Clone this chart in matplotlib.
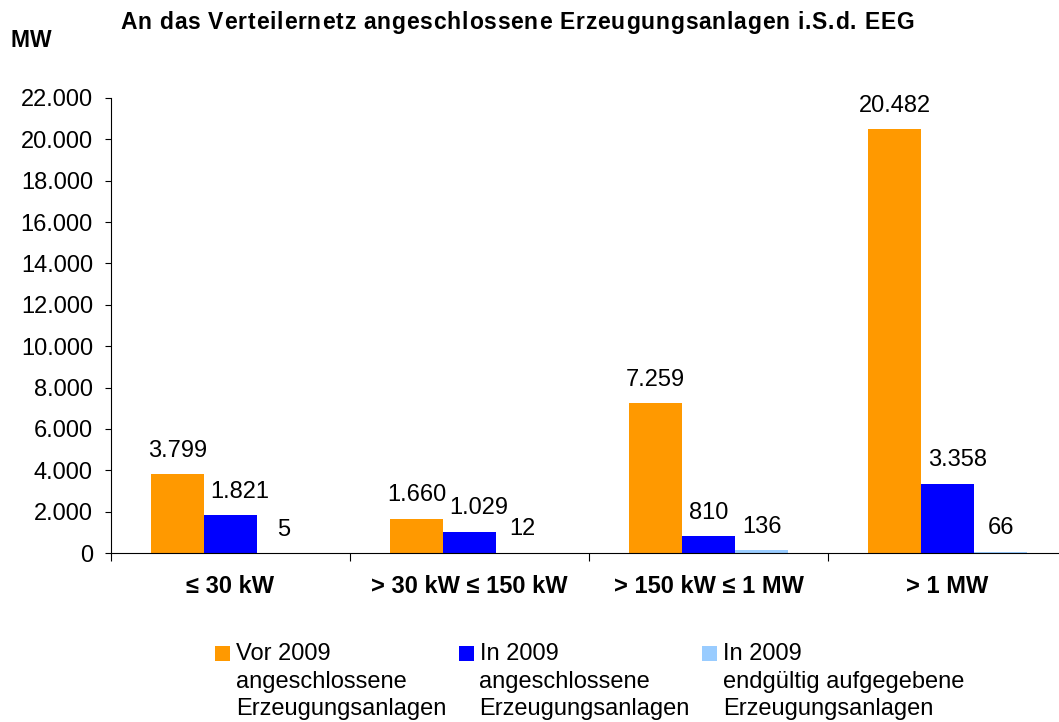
import numpy as np
import matplotlib
matplotlib.use("Agg")
import matplotlib.pyplot as plt
from matplotlib.patches import Rectangle
from matplotlib.ticker import FuncFormatter
from matplotlib.font_manager import FontProperties, findfont, get_font

plt.rcParams['font.family'] = ['Liberation Sans', 'DejaVu Sans']

# data (MW)
categories = ["\u2264 30 kW", "> 30 kW \u2264 150 kW", "> 150 kW \u2264 1 MW", "> 1 MW"]
vor_2009 = [3799, 1660, 7259, 20482]
in_2009 = [1821, 1029, 810, 3358]
aufgegeben_2009 = [5, 12, 136, 66]
series_labels = ["Vor 2009\nangeschlossene\nErzeugungsanlagen",
                 "In 2009\nangeschlossene\nErzeugungsanlagen",
                 "In 2009\nendgültig aufgegebene\nErzeugungsanlagen"]
colors = ["#FF9900", "#0000FF", "#99CCFF"]
title = "An das Verteilernetz angeschlossene Erzeugungsanlagen i.S.d. EEG"

W, H = 1059, 722


def de_fmt(v, pos=None):
    return f"{int(v):,}".replace(",", ".")


def spaced_text(fig, x, y, s, size, track):
    # bold text with extra letter spacing, x/y in pixels from top left
    prop = FontProperties(family='Liberation Sans', weight='bold', size=size)
    font = get_font(findfont(prop))
    font.set_size(size, 100)
    for c in s:
        fig.text(x / W, 1 - y / H, c, fontproperties=prop, ha="left", va="baseline")
        x += font.load_char(ord(c)).linearHoriAdvance / 65536 + track


fig = plt.figure(figsize=(W / 100, H / 100), dpi=100)
ax = fig.add_axes([111 / W, 169 / H, 956 / W, 455 / H])

x = np.arange(len(categories))
w = 0.222
series = [vor_2009, in_2009, aufgegeben_2009]
# small sideways nudges (points) of value labels, as in the original
nudges = [[0, 0, 0, 0], [7, 7, 0, 7], [0, 0, 0, 0]]
for i, (vals, col) in enumerate(zip(series, colors)):
    pos = x + (i - 1) * w
    ax.bar(pos, vals, width=w, color=col, linewidth=0)
    for j, (p, v) in enumerate(zip(pos, vals)):
        ax.annotate(de_fmt(v), (p, v), xytext=(nudges[i][j], 12.5),
                    textcoords="offset points", ha="center", va="baseline",
                    fontsize=17)

ax.set_xlim(-0.5, len(categories) - 0.5)
ax.set_ylim(0, 22000)
ax.set_yticks(np.arange(0, 22001, 2000))
ax.yaxis.set_major_formatter(FuncFormatter(de_fmt))
ax.tick_params(axis="y", length=4, pad=9, labelsize=17)

ax.set_xticks(np.arange(len(categories) + 1) - 0.5)
ax.set_xticklabels([])
ax.set_xticks(x, minor=True)
ax.set_xticklabels(categories, minor=True, fontsize=17, fontweight="bold")
ax.tick_params(axis="x", which="major", length=6)
ax.tick_params(axis="x", which="minor", length=0, pad=16)

for s in ["top", "right"]:
    ax.spines[s].set_visible(False)

spaced_text(fig, 120, 29, title, 16.5, 0.8)
spaced_text(fig, 10, 47, "MW", 16.5, 1.0)

# legend below the chart
for i, (lab, col) in enumerate(zip(series_labels, colors)):
    x0 = (215 + i * 243.5) / W
    fig.patches.append(Rectangle((x0, 1 - 661 / H), 15 / W, 15 / H,
                                 transform=fig.transFigure, color=col, linewidth=0))
    fig.text(x0 + 21 / W, 1 - 643 / H, lab, ha="left", va="top",
             fontsize=17, linespacing=1.33)

fig.savefig("out.png", dpi=100)
